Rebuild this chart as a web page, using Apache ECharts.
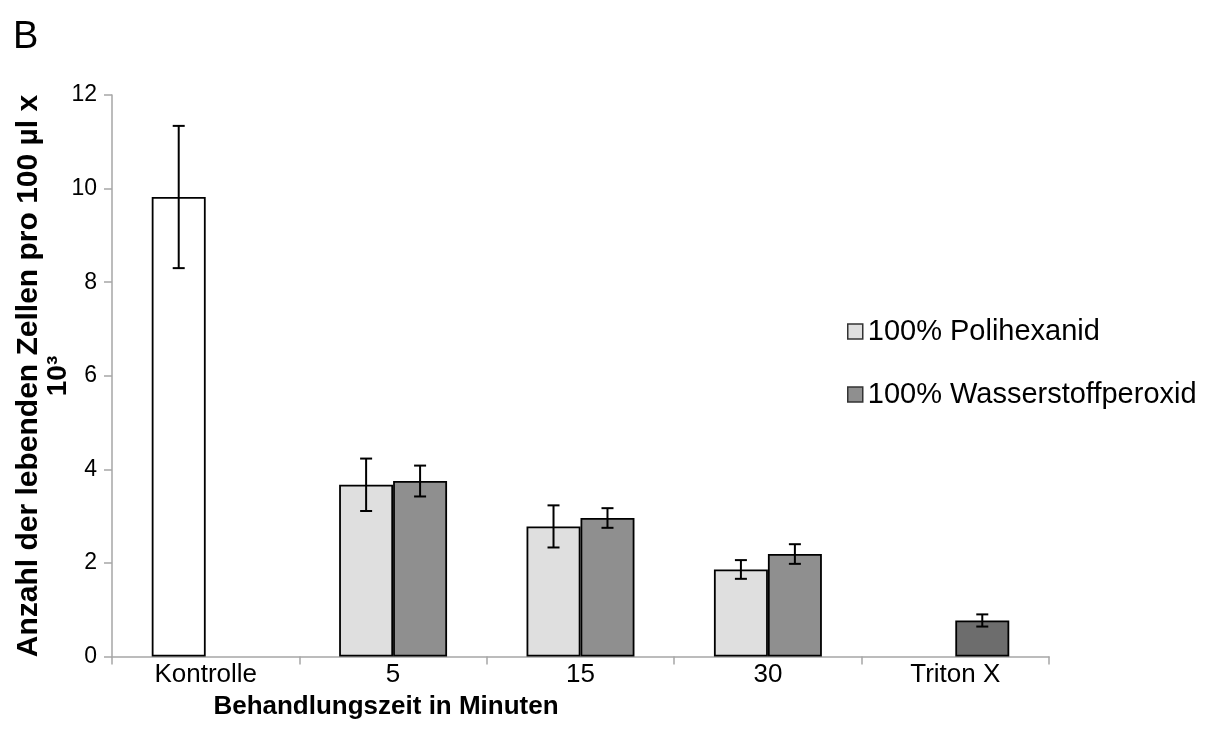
<!DOCTYPE html>
<html>
<head>
<meta charset="utf-8">
<script src="https://cdn.jsdelivr.net/npm/echarts@6/dist/echarts.min.js"></script>
<style>
  html, body { margin: 0; padding: 0; background: #fff; }
  #chart { width: 1212px; height: 751px; }
</style>
</head>
<body>
<div id="chart"></div>
<script>
// Treatment groups along the x axis
const categories = ['Kontrolle', '5', '15', '30', 'Triton X'];

// Left bar of each group (control + polyhexanide), with standard deviations
const polihexanid = [9.82, 3.67, 2.78, 1.86, null];
const polihexanidErr = [1.52, 0.56, 0.45, 0.20, null];

// Right bar of each group (hydrogen peroxide + Triton X), with standard deviations
const peroxid = [null, 3.75, 2.96, 2.19, 0.77];
const peroxidErr = [null, 0.33, 0.21, 0.21, 0.13];

// Value axis
const yMin = 0, yMax = 12, yStep = 2;

const seriesNames = ['100% Polihexanid', '100% Wasserstoffperoxid'];
const FONT = 'Liberation Sans, Arial, Helvetica, sans-serif';
const BAR_FRACTION = 0.288;

const colLight = '#dfdfdf';
const colMid = '#8f8f8f';
const colControl = '#ffffff';
const colTriton = '#6d6d6d';

function barData(values, overrides) {
  return values.map((v, i) => {
    if (v == null) return null;
    if (overrides[i]) return { value: v, itemStyle: { color: overrides[i] } };
    return v;
  });
}

function errData(values, errs) {
  const out = [];
  values.forEach((v, i) => { if (v != null) out.push([i, v, errs[i]]); });
  return out;
}

function errorRenderer(side) {
  return function (params, api) {
    const idx = api.value(0), v = api.value(1), e = api.value(2);
    const band = api.size([1, 0])[0];
    const x = api.coord([idx, v])[0] + side * band * BAR_FRACTION / 2;
    const yTop = api.coord([idx, v + e])[1];
    const yBot = api.coord([idx, v - e])[1];
    const cap = 6;
    const st = { stroke: '#000', lineWidth: 2 };
    return {
      type: 'group',
      children: [
        { type: 'line', shape: { x1: x, y1: yTop, x2: x, y2: yBot }, style: st },
        { type: 'line', shape: { x1: x - cap, y1: yTop, x2: x + cap, y2: yTop }, style: st },
        { type: 'line', shape: { x1: x - cap, y1: yBot, x2: x + cap, y2: yBot }, style: st }
      ]
    };
  };
}

const chart = echarts.init(document.getElementById('chart'), null, { renderer: 'canvas' });

chart.setOption({
  backgroundColor: '#ffffff',
  animation: false,
  textStyle: { fontFamily: FONT },
  grid: { left: 112, right: 163, top: 95, bottom: 94.5, containLabel: false },
  legend: {
    data: seriesNames,
    orient: 'vertical',
    left: 842,
    top: 312,
    itemGap: 34,
    itemWidth: 15,
    itemHeight: 15,
    icon: 'rect',
    itemStyle: { borderColor: '#333', borderWidth: 1.5 },
    textStyle: { fontSize: 29, color: '#000', fontFamily: FONT, padding: [0, 0, 0, 0] }
  },
  xAxis: {
    type: 'category',
    data: categories,
    axisLine: { lineStyle: { color: '#a6a6a6', width: 1.5 } },
    axisTick: { show: true, alignWithLabel: false, length: 8, lineStyle: { color: '#a6a6a6', width: 1.5 } },
    axisLabel: { fontSize: 26, color: '#000', margin: 5, fontFamily: FONT }
  },
  yAxis: {
    type: 'value',
    min: yMin,
    max: yMax,
    interval: yStep,
    axisLine: { show: true, lineStyle: { color: '#a6a6a6', width: 1.5 } },
    axisTick: { show: true, length: 8, inside: false, lineStyle: { color: '#a6a6a6', width: 1.5 } },
    splitLine: { show: false },
    axisLabel: { fontSize: 23, color: '#000', margin: 15, fontFamily: FONT }
  },
  series: [
    {
      name: seriesNames[0],
      type: 'bar',
      barWidth: (BAR_FRACTION * 100) + '%',
      barGap: '0%',
      itemStyle: { color: colLight, borderColor: '#000', borderWidth: 1.8 },
      data: barData(polihexanid, { 0: colControl })
    },
    {
      name: seriesNames[1],
      type: 'bar',
      barWidth: (BAR_FRACTION * 100) + '%',
      barGap: '0%',
      itemStyle: { color: colMid, borderColor: '#000', borderWidth: 1.8 },
      data: barData(peroxid, { 4: colTriton })
    },
    {
      type: 'custom',
      name: 'err-left',
      renderItem: errorRenderer(-1),
      encode: { x: 0, y: 1 },
      data: errData(polihexanid, polihexanidErr),
      z: 10
    },
    {
      type: 'custom',
      name: 'err-right',
      renderItem: errorRenderer(1),
      encode: { x: 0, y: 1 },
      data: errData(peroxid, peroxidErr),
      z: 10
    }
  ],
  graphic: [
    {
      type: 'text', left: 13, top: 19,
      style: { text: 'B', fontSize: 38, fill: '#000', fontFamily: FONT }
    },
    {
      type: 'text', x: 29, y: 376, rotation: Math.PI / 2,
      style: {
        text: 'Anzahl der lebenden Zellen pro 100 µl x', fontSize: 30, fontWeight: 'bold',
        fill: '#000', fontFamily: FONT, textAlign: 'center', textVerticalAlign: 'middle'
      }
    },
    {
      type: 'text', x: 58, y: 376, rotation: Math.PI / 2,
      style: {
        text: '10³', fontSize: 28, fontWeight: 'bold',
        fill: '#000', fontFamily: FONT, textAlign: 'center', textVerticalAlign: 'middle'
      }
    },
    {
      type: 'text', x: 386, y: 707,
      style: {
        text: 'Behandlungszeit in Minuten', fontSize: 26, fontWeight: 'bold',
        fill: '#000', fontFamily: FONT, textAlign: 'center', textVerticalAlign: 'middle'
      }
    }
  ]
});
</script>
</body>
</html>
